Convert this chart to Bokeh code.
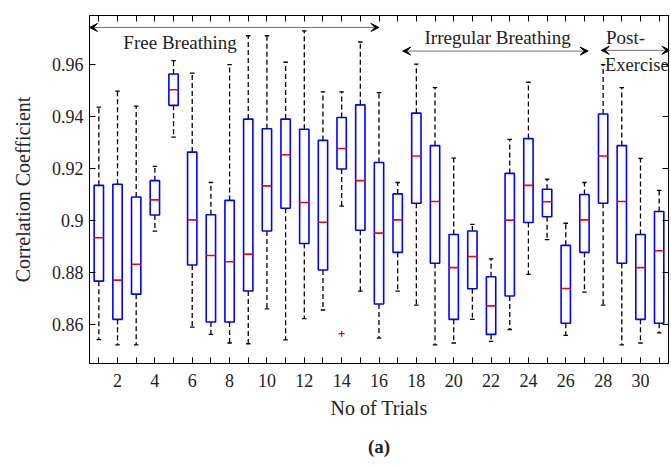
from bokeh.plotting import figure
from bokeh.models import Range1d, LinearAxis, FixedTicker, Arrow, VeeHead, Label, Title
from bokeh.embed import file_html
from bokeh.resources import INLINE

trials = list(range(1, 32))
q1 = [0.8767, 0.8620, 0.8717, 0.9022, 0.9444, 0.8829, 0.8610, 0.8610, 0.8729, 0.8960,
      0.9048, 0.8912, 0.8810, 0.9199, 0.8963, 0.8679, 0.8878, 0.9067, 0.8836, 0.8620,
      0.8738, 0.8562, 0.8710, 0.8993, 0.9015, 0.8605, 0.8878, 0.9067, 0.8836, 0.8620, 0.8605]
med = [0.8934, 0.8771, 0.8832, 0.9080, 0.9504, 0.9003, 0.8866, 0.8842, 0.8871, 0.9134,
       0.9254, 0.9070, 0.8994, 0.9278, 0.9154, 0.8952, 0.9003, 0.9249, 0.9074, 0.8819,
       0.8862, 0.8672, 0.9002, 0.9136, 0.9073, 0.8739, 0.9003, 0.9249, 0.9074, 0.8819, 0.8884]
q3 = [0.9136, 0.9140, 0.9091, 0.9154, 0.9565, 0.9264, 0.9023, 0.9078, 0.9391, 0.9354,
      0.9391, 0.9352, 0.9309, 0.9397, 0.9446, 0.9224, 0.9103, 0.9414, 0.9289, 0.8947,
      0.8960, 0.8784, 0.9182, 0.9316, 0.9121, 0.8905, 0.9101, 0.9411, 0.9289, 0.8947, 0.9035]
lo = [0.8542, 0.8522, 0.8522, 0.8960, 0.9322, 0.8590, 0.8562, 0.8529, 0.8526, 0.8660,
      0.8541, 0.8623, 0.8656, 0.9056, 0.8729, 0.8548, 0.8729, 0.8675, 0.8522, 0.8529,
      0.8620, 0.8535, 0.8581, 0.8793, 0.8927, 0.8558, 0.8725, 0.8675, 0.8522, 0.8529, 0.8568]
hi = [0.9437, 0.9499, 0.9441, 0.9209, 0.9616, 0.9568, 0.9147, 0.9601, 0.9712, 0.9712,
      0.9610, 0.9731, 0.9496, 0.9496, 0.9688, 0.9493, 0.9147, 0.9603, 0.9512, 0.9241,
      0.8986, 0.8853, 0.9313, 0.9533, 0.9160, 0.8990, 0.9147, 0.9601, 0.9512, 0.9240, 0.9117]
outlier_x = [14]
outlier_y = [0.8565]

xticks = list(range(2, 31, 2))
xminor = list(range(1, 32))
yticks = [0.86, 0.88, 0.9, 0.92, 0.94, 0.96]
ytick_labels = ["0.86", "0.88", "0.9", "0.92", "0.94", "0.96"]

FONT = "Liberation Serif"

p = figure(width=671, height=468, output_backend="svg", toolbar_location=None,
           x_range=Range1d(0.5, 31.5), y_range=Range1d(0.845, 0.979),
           min_border_left=89, min_border_right=3, min_border_top=15, min_border_bottom=20,
           x_axis_label="No of Trials", y_axis_label="Correlation Coefficient")
p.xgrid.visible = False
p.ygrid.visible = False
p.outline_line_color = "black"
p.outline_line_width = 1
p.background_fill_color = "white"
p.border_fill_color = "white"

def style_axis(ax, ticker, labels=True, overrides=None):
    ax.ticker = ticker
    ax.major_tick_in = 6
    ax.major_tick_out = 0
    ax.minor_tick_in = 6
    ax.minor_tick_out = 0
    ax.axis_line_color = "black"
    ax.major_tick_line_color = "black"
    ax.minor_tick_line_color = "black"
    if labels:
        ax.major_label_text_font = FONT
        ax.major_label_text_font_size = "18px"
        ax.major_label_text_color = "#222222"
        ax.major_label_standoff = 6
        ax.axis_label_text_font = FONT
        ax.axis_label_text_font_size = "20px"
        ax.axis_label_text_font_style = "normal"
        ax.axis_label_text_color = "#222222"
        if overrides:
            ax.major_label_overrides = overrides
    else:
        ax.major_label_standoff = 0
        ax.axis_label = None

xt = FixedTicker(ticks=xticks, minor_ticks=xminor)
yt = FixedTicker(ticks=yticks, minor_ticks=[])
style_axis(p.xaxis[0], xt)
p.xaxis[0].major_label_standoff = 10
p.xaxis[0].axis_label_standoff = 7
style_axis(p.yaxis[0], yt, overrides={t: s for t, s in zip(yticks, ytick_labels)})
p.yaxis[0].axis_label_standoff = 15

# mirrored tick marks on top and right (minor ticks only -> no labels)
top = LinearAxis()
style_axis(top, FixedTicker(ticks=[], minor_ticks=xminor), labels=False)
p.add_layout(top, "above")
right = LinearAxis()
style_axis(right, FixedTicker(ticks=[], minor_ticks=yticks), labels=False)
p.add_layout(right, "right")

p.add_layout(Title(text="(a)", align="center", text_font=FONT, text_font_size="19px",
                   text_font_style="bold", text_color="#222222", standoff=24, offset=-18), "below")

bw = 0.25
cw = 0.12
xl = [x - bw for x in trials]
xr = [x + bw for x in trials]
cl = [x - cw for x in trials]
cr = [x + cw for x in trials]

# whiskers
p.segment(x0=trials, y0=q3, x1=trials, y1=hi, line_color="black", line_width=1.3, line_dash="5 3")
p.segment(x0=trials, y0=q1, x1=trials, y1=lo, line_color="black", line_width=1.3, line_dash="5 3")
p.segment(x0=cl, y0=hi, x1=cr, y1=hi, line_color="black", line_width=1.3)
p.segment(x0=cl, y0=lo, x1=cr, y1=lo, line_color="black", line_width=1.3)
# boxes
p.quad(left=xl, right=xr, bottom=q1, top=q3, fill_color=None, line_color="#0000FF", line_width=1.6)
# medians
p.segment(x0=xl, y0=med, x1=xr, y1=med, line_color="#FF0000", line_width=1.6)
# outliers
p.scatter(x=outlier_x, y=outlier_y, marker="cross", size=6, line_color="#FF0000", line_width=1.2)

# annotations
def arrow(x0, x1, y):
    p.add_layout(Arrow(x_start=x0, y_start=y, x_end=x1, y_end=y,
                       line_color="#707070", line_width=1,
                       start=VeeHead(size=8, fill_color="black", line_color="black"),
                       end=VeeHead(size=8, fill_color="black", line_color="black")))

arrow(0.5, 16.0, 0.9744)
arrow(17.27, 27.2, 0.9653)
arrow(27.9, 31.58, 0.9656)

def label(x, y, text, align="center", size="19px"):
    p.add_layout(Label(x=x, y=y, text=text, text_font=FONT, text_font_size=size,
                       text_align=align, text_baseline="middle", text_color="#222222"))

label(5.35, 0.9685, "Free Breathing")
label(22.35, 0.9705, "Irregular Breathing")
label(28.15, 0.9705, "Post-", align="left")
label(28.1, 0.9601, "Exercise", align="left", size="18.5px")

open("out.html", "w").write(file_html(p, INLINE))
